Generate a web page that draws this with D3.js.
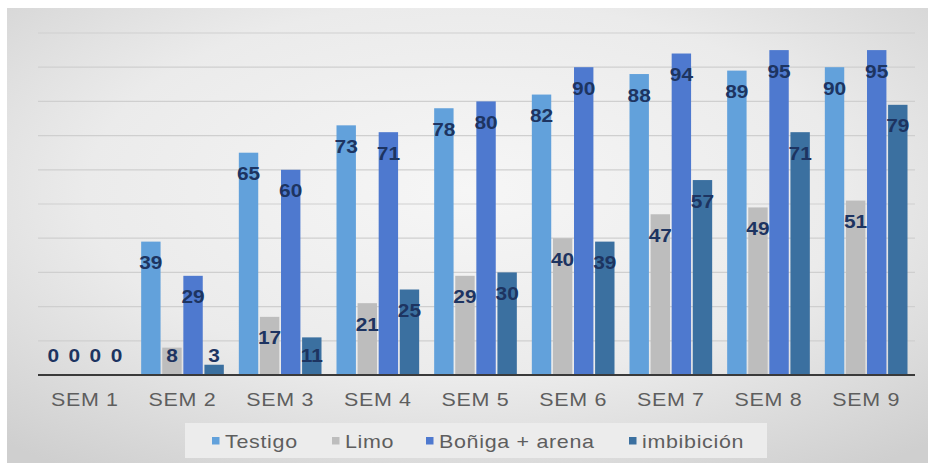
<!DOCTYPE html>
<html>
<head>
<meta charset="utf-8">
<script src="https://cdn.jsdelivr.net/npm/d3@7"></script>
<style>
  html, body { margin: 0; padding: 0; background: #ffffff; }
  svg { display: block; }
</style>
</head>
<body>
<svg id="chart" width="932" height="463"></svg>
<script>
// Weekly results per treatment
const categories = ["SEM 1", "SEM 2", "SEM 3", "SEM 4", "SEM 5", "SEM 6", "SEM 7", "SEM 8", "SEM 9"];
const seriesNames = ["Testigo", "Limo", "Boñiga + arena", "imbibición"];
const testigo = [0, 39, 65, 73, 78, 82, 88, 89, 90];
const limo = [0, 8, 17, 21, 29, 40, 47, 49, 51];
const boniga = [0, 29, 60, 71, 80, 90, 94, 95, 95];
const imbibicion = [0, 3, 11, 25, 30, 39, 57, 71, 79];
const gridTicks = [0, 10, 20, 30, 40, 50, 60, 70, 80, 90, 100];

const seriesValues = [testigo, limo, boniga, imbibicion];
const colors = ["#62a1db", "#bdbdbd", "#4e79cf", "#3b70a0"];
const FONT = "'Liberation Sans', Arial, sans-serif";
const WIDEN = 1.13; // horizontal stretch applied to all text

const svg = d3.select("#chart");
const W = 932, H = 463;

// Background panel with soft radial shading
const defs = svg.append("defs");
const rg = defs.append("radialGradient").attr("id", "bg")
  .attr("cx", "50%").attr("cy", "40%").attr("r", "75%");
rg.append("stop").attr("offset", "0%").attr("stop-color", "#f6f6f6");
rg.append("stop").attr("offset", "55%").attr("stop-color", "#ebebeb");
rg.append("stop").attr("offset", "100%").attr("stop-color", "#cfcfcf");

svg.append("rect").attr("x", 7).attr("y", 8).attr("width", 921).attr("height", 455)
  .attr("fill", "url(#bg)");

const margin = { left: 36, right: 17, top: 33, bottom: 88 };
const x0 = margin.left, x1 = W - margin.right;
const yBase = 375;

const x = d3.scaleBand().domain(categories).range([x0, x1]).paddingInner(0).paddingOuter(0);
const y = d3.scaleLinear().domain([0, 100]).range([yBase, 33]);
const xs = d3.scaleBand().domain(seriesNames).range([7.5, x.bandwidth() - 7.5]).paddingInner(0.08).paddingOuter(0);

// Horizontal gridlines
svg.append("g").selectAll("line").data(gridTicks.filter(d => d > 0)).join("line")
  .attr("x1", 38).attr("x2", x1)
  .attr("y1", d => y(d)).attr("y2", d => y(d))
  .attr("stroke", "#cfcfcf").attr("stroke-width", 1.2);

// Bars
const groups = svg.append("g").selectAll("g").data(categories).join("g")
  .attr("transform", d => `translate(${x(d)},0)`);

const rows = categories.map((c, i) => seriesNames.map((s, k) => ({ cat: c, name: s, k, v: seriesValues[k][i] })));

groups.selectAll("rect").data((d, i) => rows[i]).join("rect")
  .attr("x", d => xs(d.name))
  .attr("y", d => y(d.v))
  .attr("width", xs.bandwidth())
  .attr("height", d => yBase - y(d.v))
  .attr("fill", d => colors[d.k]);

// Value labels
groups.selectAll("text").data((d, i) => rows[i]).join("text")
  .attr("transform", d => `translate(${xs(d.name) + xs.bandwidth() / 2},${Math.min(y(d.v) + 21, yBase - 20)}) scale(${WIDEN},1)`)
  .attr("text-anchor", "middle")
  .attr("dominant-baseline", "central")
  .attr("font-family", FONT)
  .attr("font-weight", "bold")
  .attr("font-size", 18.5)
  .attr("fill", "#1d3461")
  .text(d => d.v);

// Baseline
svg.append("line").attr("x1", 38).attr("x2", x1).attr("y1", yBase).attr("y2", yBase)
  .attr("stroke", "#3a3a3a").attr("stroke-width", 2);

// Category axis
const xAxis = svg.append("g").attr("transform", `translate(0,${yBase})`)
  .call(d3.axisBottom(x).tickSize(0).tickPadding(0));
xAxis.select(".domain").remove();
xAxis.selectAll("text")
  .attr("y", 0)
  .attr("dy", "0")
  .attr("transform", `translate(0,31) scale(${WIDEN},1)`)
  .attr("font-family", FONT)
  .attr("font-size", 19)
  .attr("fill", "#5e5e5e")
  .style("letter-spacing", "0.6px");

// Legend
svg.append("rect").attr("x", 185).attr("y", 423).attr("width", 582).attr("height", 35)
  .attr("fill", "#ececec");
const legendX = [212, 332, 426, 629];
const legend = svg.append("g").selectAll("g").data(seriesNames).join("g")
  .attr("transform", (d, i) => `translate(${legendX[i]},441)`);
legend.append("rect").attr("x", 0).attr("y", -4).attr("width", 7.5).attr("height", 7.5)
  .attr("fill", (d, i) => colors[i]);
legend.append("text")
  .attr("transform", `translate(13,0) scale(${WIDEN},1)`)
  .attr("dominant-baseline", "central")
  .attr("font-family", FONT)
  .attr("font-size", 19)
  .attr("fill", "#5e5e5e")
  .style("letter-spacing", "0.6px")
  .text(d => d);
</script>
</body>
</html>
